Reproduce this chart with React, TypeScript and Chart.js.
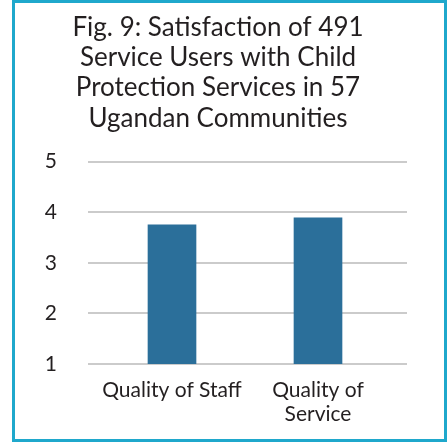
import React, { useEffect, useRef } from "react";
import { Chart, registerables } from "chart.js";

Chart.register(...registerables);

const titleLines = [
  "Fig. 9: Satisfaction of 491",
  "Service Users with Child",
  "Protection Services in 57",
  "Ugandan Communities",
];
const categories = [["Quality of Staff"], ["Quality of", "Service"]];
const satisfaction = [3.75, 3.89];
const yMin = 1;
const yMax = 5;

const FONT = "Lato, 'Open Sans', sans-serif";
const TEXT = "#231f20";
const GRID = "#cbcbcb";
const BAR = "#2b6f9a";
const FRAME = "#1fa8cc";

export default function App() {
  const ref = useRef<HTMLCanvasElement | null>(null);

  useEffect(() => {
    if (!ref.current) return;
    const chart = new Chart(ref.current, {
      type: "bar",
      data: {
        labels: categories,
        datasets: [
          {
            data: satisfaction,
            backgroundColor: BAR,
            borderWidth: 0,
            barThickness: 48,
          },
        ],
      },
      options: {
        animation: false,
        responsive: false,
        maintainAspectRatio: false,
        layout: { padding: { top: 0, left: 29, right: 40, bottom: 3 } },
        plugins: {
          legend: { display: false },
          tooltip: { enabled: false },
          title: {
            display: true,
            text: titleLines,
            color: TEXT,
            font: { family: FONT, size: 26, weight: "normal", lineHeight: 1.17 },
            padding: { top: 12, bottom: 28 },
          },
        },
        scales: {
          x: {
            grid: { display: false, drawTicks: false },
            border: { display: false },
            ticks: {
              color: TEXT,
              padding: 15,
              font: { family: FONT, size: 21, lineHeight: 1.12 },
              maxRotation: 0,
              autoSkip: false,
            },
          },
          y: {
            min: yMin,
            max: yMax,
            border: { display: false },
            grid: { color: GRID, lineWidth: 2, tickLength: 11, tickColor: GRID },
            ticks: {
              stepSize: 1,
              color: TEXT,
              padding: 31,
              font: { family: FONT, size: 21 },
            },
            afterFit: (scale: any) => {
              scale.width = 70;
            },
          },
          y2: {
            position: "right",
            min: yMin,
            max: yMax,
            border: { display: false },
            grid: { color: GRID, lineWidth: 2, tickLength: 16, tickColor: GRID },
            ticks: { stepSize: 1, display: false },
          },
        },
      },
    });
    return () => chart.destroy();
  }, []);

  return (
    <div style={{ position: "fixed", left: 0, top: 0, width: 447, height: 444, background: "#fff" }}>
      <div
        style={{
          position: "absolute",
          left: 12,
          top: 0,
          width: 435,
          height: 442,
          border: `3px solid ${FRAME}`,
          boxSizing: "border-box",
        }}
      />
      <canvas
        ref={ref}
        width={447}
        height={444}
        style={{ position: "absolute", left: 0, top: 0, width: 447, height: 444 }}
      />
    </div>
  );
}
